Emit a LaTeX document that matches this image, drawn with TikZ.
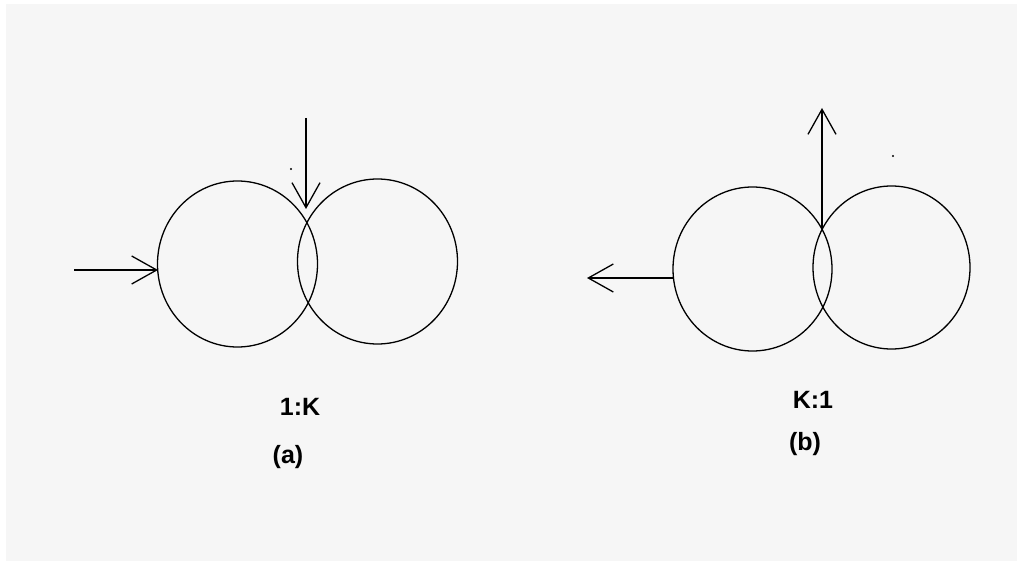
\documentclass[tikz,border=0pt]{standalone}
\usepackage{fontspec}
\setmainfont{Liberation Sans}
\usetikzlibrary{arrows.meta,shapes.geometric}
\definecolor{bgray}{RGB}{246,246,246}
\begin{document}
\begin{tikzpicture}[x=1pt,y=-1pt,
  ring/.style={draw=black, line width=1.3pt, ellipse, inner sep=0pt},
  arr/.style={draw=black, line width=1.3pt, -{Straight Barb[length=25pt,width=28pt,line width=1.3pt]}},
  lbl/.style={font=\fontsize{25}{30}\selectfont\bfseries, inner sep=0pt},
  speck/.style={fill=black, circle, inner sep=0pt, minimum size=2.4pt}]
\useasboundingbox (0,0) rectangle (1017,561);
\fill[bgray] (6,4) rectangle (1017,561);
% (a)
\node[ring, minimum width=160pt, minimum height=166pt] (a1) at (237.5,264) {};
\node[ring, minimum width=160pt, minimum height=165pt] (a2) at (377.5,261.5) {};
\coordinate (ain) at (74,270);
\coordinate (ahit) at (158,270);
\coordinate (atop) at (306,118);
\coordinate (amid) at (306,209);
\draw[arr] (ain) -- (ahit);
\draw[arr] (atop) -- (amid);
\node[speck] (adot) at (291,169) {};
\node[lbl] (ratioa) at (300,407) {1:K};
\node[lbl] (capa) at (288,457) {(a)};
% (b)
\node[ring, minimum width=159pt, minimum height=164pt] (b1) at (752.5,269) {};
\node[ring, minimum width=157pt, minimum height=163pt] (b2) at (891.5,267.5) {};
\coordinate (bstart) at (673,278);
\coordinate (bout) at (587,278);
\coordinate (bmid) at (822,229);
\coordinate (btop) at (822,108);
\draw[arr] (bstart) -- (bout);
\draw[arr] (bmid) -- (btop);
\node[speck] (bdot) at (893,156) {};
\node[lbl] (ratiob) at (813,400) {K:1};
\node[lbl] (capb) at (805,444) {(b)};
\end{tikzpicture}
\end{document}
